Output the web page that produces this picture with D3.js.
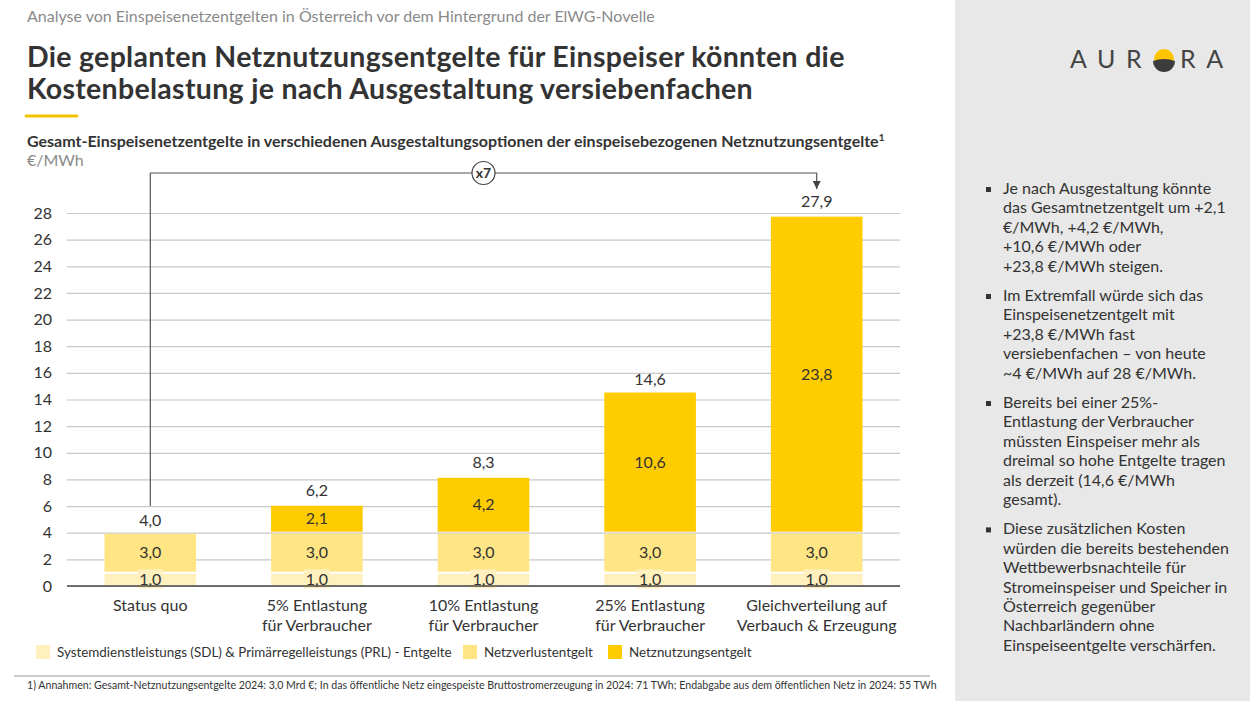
<!DOCTYPE html>
<html>
<head>
<meta charset="utf-8">
<script src="https://cdn.jsdelivr.net/npm/d3@7"></script>
<style>
  body { margin: 0; background: #fff; font-family: Lato, 'Open Sans', sans-serif; }
  svg text { font-family: Lato, 'Open Sans', sans-serif; }
</style>
</head>
<body>
<div id="graph-container"></div>
<script>
const categories = [
  ['Status quo'],
  ['5% Entlastung', 'für Verbraucher'],
  ['10% Entlastung', 'für Verbraucher'],
  ['25% Entlastung', 'für Verbraucher'],
  ['Gleichverteilung auf', 'Verbauch & Erzeugung']
];
const sdlValues = [1.0, 1.0, 1.0, 1.0, 1.0];
const verlustValues = [3.0, 3.0, 3.0, 3.0, 3.0];
const nutzungValues = [0, 2.1, 4.2, 10.6, 23.8];
const totals = [4.0, 6.2, 8.3, 14.6, 27.9];
const yTicks = [0, 2, 4, 6, 8, 10, 12, 14, 16, 18, 20, 22, 24, 26, 28];
const seriesNames = ['Systemdienstleistungs (SDL) & Primärregelleistungs (PRL) - Entgelte', 'Netzverlustentgelt', 'Netznutzungsentgelt'];
const seriesColors = ['#fff0bd', '#ffe584', '#ffcc00'];
const bullets = [
  ['Je nach Ausgestaltung könnte', 'das Gesamtnetzentgelt um +2,1', '€/MWh, +4,2 €/MWh,', '+10,6 €/MWh oder', '+23,8 €/MWh steigen.'],
  ['Im Extremfall würde sich das', 'Einspeisenetzentgelt mit', '+23,8 €/MWh fast', 'versiebenfachen – von heute', '~4 €/MWh auf 28 €/MWh.'],
  ['Bereits bei einer 25%-', 'Entlastung der Verbraucher', 'müssten Einspeiser mehr als', 'dreimal so hohe Entgelte tragen', 'als derzeit (14,6 €/MWh', 'gesamt).'],
  ['Diese zusätzlichen Kosten', 'würden die bereits bestehenden', 'Wettbewerbsnachteile für', 'Stromeinspeiser und Speicher in', 'Österreich gegenüber', 'Nachbarländern ohne', 'Einspeiseentgelte verschärfen.']
];

const width = 1250;
const height = 701;
const fmt = (v) => v.toFixed(1).replace('.', ',');

const svg = d3.select('#graph-container')
              .append('svg')
              .attr('width', width)
              .attr('height', height);

// right grey panel
svg.append('rect')
   .attr('x', 955).attr('y', 0)
   .attr('width', width - 955).attr('height', height)
   .attr('fill', '#e8e8e8');

// header texts
svg.append('text')
   .attr('x', 27).attr('y', 22)
   .attr('font-size', 16).attr('fill', '#8a8a8a')
   .text('Analyse von Einspeisenetzentgelten in Österreich vor dem Hintergrund der ElWG-Novelle');

// two separate lines so they don't collide
svg.append('text')
   .attr('x', 27).attr('y', 67)
   .attr('font-size', 28.5).attr('font-weight', 'bold').attr('fill', '#333')
   .attr('letter-spacing', 0.3)
   .text('Die geplanten Netznutzungsentgelte für Einspeiser könnten die');
svg.append('text')
   .attr('x', 27).attr('y', 99)
   .attr('font-size', 28.5).attr('font-weight', 'bold').attr('fill', '#333')
   .attr('letter-spacing', 0.3)
   .text('Kostenbelastung je nach Ausgestaltung versiebenfachen');

svg.append('line')
   .attr('x1', 26).attr('x2', 77).attr('y1', 116).attr('y2', 116)
   .attr('stroke', '#f5c400').attr('stroke-width', 3).attr('stroke-linecap', 'round');

const sub = svg.append('text')
               .attr('x', 27).attr('y', 147)
               .attr('font-size', 16).attr('font-weight', 'bold').attr('fill', '#333')
               .text('Gesamt-Einspeisenetzentgelte in verschiedenen Ausgestaltungsoptionen der einspeisebezogenen Netznutzungsentgelte');
sub.append('tspan').attr('font-size', 10).attr('dy', -6).text('1');

svg.append('text')
   .attr('x', 27).attr('y', 166)
   .attr('font-size', 16).attr('fill', '#8a8a8a')
   .text('€/MWh');

// logo
const logo = svg.append('g').attr('fill', '#444').attr('font-size', 25);
logo.append('text').attr('x', 1070).attr('y', 68).attr('letter-spacing', 10.5).text('AUR');
logo.append('text').attr('x', 1180).attr('y', 68).attr('letter-spacing', 10.5).text('RA');
logo.append('circle').attr('cx', 1164).attr('cy', 59).attr('r', 10).attr('fill', '#ffc400');
logo.append('path')
    .attr('d', 'M1153,61 Q1164,57 1175,61 A11,11 0 0 1 1153,61 Z')
    .attr('fill', '#3c3c3c');

// scales
const x = d3.scaleBand()
            .domain(d3.range(categories.length))
            .range([67, 900])
            .paddingInner(0.45)
            .paddingOuter(0.225);
const y = d3.scaleLinear().domain([0, 28]).range([586, 213]);

// gridlines + y labels
const yAxis = d3.axisLeft(y).tickValues(yTicks).tickSize(-(900 - 67)).tickPadding(15);
const yg = svg.append('g').attr('transform', 'translate(67,0)').call(yAxis);
yg.select('.domain').remove();
yg.selectAll('.tick line').attr('stroke', '#c8c8c8').attr('stroke-width', 1.2);
yg.selectAll('.tick text').attr('font-size', 16).attr('fill', '#333');

// stacked bars
const stackData = categories.map((c, i) => ({i: i, s0: sdlValues[i], s1: verlustValues[i], s2: nutzungValues[i]}));
const stack = d3.stack().keys(['s0', 's1', 's2'])(stackData);

const layers = svg.selectAll('g.layer')
                  .data(stack)
                  .enter()
                  .append('g')
                  .attr('class', 'layer')
                  .attr('fill', (d, k) => seriesColors[k]);

layers.selectAll('rect')
      .data((d) => d.filter((p) => p[1] > p[0]))
      .enter()
      .append('rect')
      .attr('x', (p) => x(p.data.i))
      .attr('width', x.bandwidth())
      .attr('y', (p) => y(p[1]) + 1)
      .attr('height', (p) => Math.max(0, y(p[0]) - y(p[1]) - 2));

// segment labels
stack.forEach((layer, k) => {
  layer.forEach((p) => {
    const v = p[1] - p[0];
    if (v <= 0) return;
    const cx = x(p.data.i) + x.bandwidth() / 2;
    const cy = (y(p[0]) + y(p[1])) / 2;
    if (k === 0) {
      svg.append('rect')
         .attr('x', cx - 13).attr('y', cy - 10)
         .attr('width', 26).attr('height', 19)
         .attr('fill', seriesColors[0]);
    }
    svg.append('text')
       .attr('x', cx).attr('y', cy + 5.5)
       .attr('text-anchor', 'middle')
       .attr('font-size', 16).attr('fill', '#333')
       .text(fmt(v));
  });
});

// totals
svg.selectAll('text.total')
   .data(totals)
   .enter()
   .append('text')
   .attr('class', 'total')
   .attr('x', (d, i) => x(i) + x.bandwidth() / 2)
   .attr('y', (d) => y(d) - 7)
   .attr('text-anchor', 'middle')
   .attr('font-size', 16).attr('fill', '#333')
   .text(fmt);

// x axis line
svg.append('line')
   .attr('x1', 67).attr('x2', 900).attr('y1', y(0)).attr('y2', y(0))
   .attr('stroke', '#444').attr('stroke-width', 1.5);

// category labels
categories.forEach((lines, i) => {
  const t = svg.append('text')
               .attr('text-anchor', 'middle')
               .attr('font-size', 16).attr('fill', '#333');
  lines.forEach((l, j) => {
    t.append('tspan')
     .attr('x', x(i) + x.bandwidth() / 2)
     .attr('y', 611 + j * 19.5)
     .text(l);
  });
});

// x7 bracket
const xa = x(0) + x.bandwidth() / 2;
const xb = x(4) + x.bandwidth() / 2;
const bracketY = 173;
svg.append('defs').append('marker')
   .attr('id', 'arrow').attr('viewBox', '0 0 10 10')
   .attr('refX', 10).attr('refY', 5)
   .attr('markerWidth', 7).attr('markerHeight', 7)
   .attr('orient', 'auto')
   .append('path').attr('d', 'M0,0 L10,5 L0,10 Z').attr('fill', '#444');
svg.append('path')
   .attr('d', `M${xa},${y(6)} V${bracketY} H${xb} V${bracketY + 16}`)
   .attr('fill', 'none').attr('stroke', '#555').attr('stroke-width', 1.2)
   .attr('marker-end', 'url(#arrow)');
const xm = (xa + xb) / 2;
svg.append('circle')
   .attr('cx', xm).attr('cy', bracketY).attr('r', 11.5)
   .attr('fill', '#fff').attr('stroke', '#444').attr('stroke-width', 1.2);
svg.append('text')
   .attr('x', xm).attr('y', bracketY + 5)
   .attr('text-anchor', 'middle')
   .attr('font-size', 14).attr('font-weight', 'bold').attr('fill', '#333')
   .text('x7');

// legend
const legendX = [36, 463, 608];
seriesNames.forEach((n, k) => {
  svg.append('rect')
     .attr('x', legendX[k]).attr('y', 645)
     .attr('width', 14).attr('height', 14)
     .attr('fill', seriesColors[k]);
  svg.append('text')
     .attr('x', legendX[k] + 21).attr('y', 657)
     .attr('font-size', 13.4).attr('fill', '#333')
     .text(n);
});

// footnote
svg.append('line')
   .attr('x1', 14).attr('x2', 930).attr('y1', 676).attr('y2', 676)
   .attr('stroke', '#999').attr('stroke-width', 1);
svg.append('text')
   .attr('x', 27).attr('y', 689)
   .attr('font-size', 10.6).attr('fill', '#333')
   .text('1) Annahmen: Gesamt-Netznutzungsentgelte 2024: 3,0 Mrd €; In das öffentliche Netz eingespeiste Bruttostromerzeugung in 2024: 71 TWh; Endabgabe aus dem öffentlichen Netz in 2024: 55 TWh');

// bullets in right panel
let by = 194;
bullets.forEach((b) => {
  svg.append('rect')
     .attr('x', 986).attr('y', by - 7)
     .attr('width', 5).attr('height', 5)
     .attr('fill', '#333');
  const t = svg.append('text').attr('font-size', 16).attr('fill', '#333');
  b.forEach((l, j) => {
    t.append('tspan').attr('x', 1003).attr('y', by + j * 19.4).text(l);
  });
  by += b.length * 19.4 + 10;
});
</script>
</body>
</html>
